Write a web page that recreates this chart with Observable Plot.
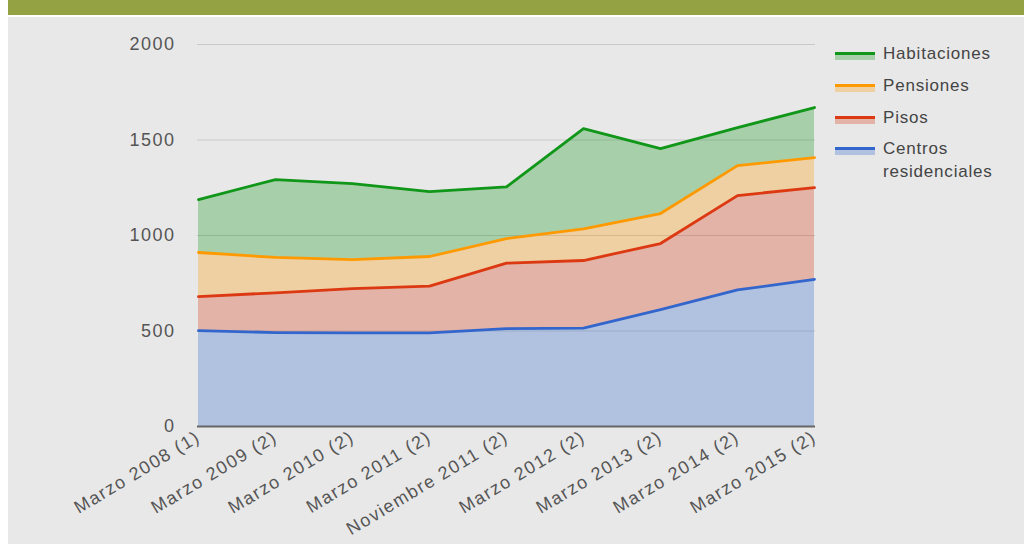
<!DOCTYPE html>
<html><head><meta charset="utf-8">
<script src="https://cdn.jsdelivr.net/npm/d3@7"></script>
<script src="https://cdn.jsdelivr.net/npm/@observablehq/plot@0.6"></script>
<style>
body{margin:0;background:#fff;width:1024px;height:544px;overflow:hidden;position:relative;font-family:"Liberation Sans",Arial,sans-serif}
#band{position:absolute;left:8px;top:0;width:1016px;height:15px;background:#94a244}
#bg{position:absolute;left:8px;top:17px;width:1016px;height:527px;background:#e8e8e8}
#chart{position:absolute;left:0;top:0}
#chart g[aria-label="x-axis tick label"] text{letter-spacing:1.5px}
#chart g[aria-label="y-axis tick label"] text{letter-spacing:1.5px}
.leg{position:absolute;left:835px;font-size:17px;letter-spacing:0.8px;color:#444;line-height:23px}
.sw{position:absolute;left:0;width:40px;height:8px}
.lt{position:absolute;left:48px;white-space:nowrap}
</style></head>
<body>
<div id="band"></div><div id="bg"></div><div id="chart"></div>
<script>
const fechas = ["Marzo 2008 (1)","Marzo 2009 (2)","Marzo 2010 (2)","Marzo 2011 (2)","Noviembre 2011 (2)","Marzo 2012 (2)","Marzo 2013 (2)","Marzo 2014 (2)","Marzo 2015 (2)"];
const centros = [502, 492, 490, 490, 512, 515, 612, 715, 770];
const pisos = [178, 208, 232, 245, 343, 354, 346, 494, 481];
const pensiones = [231, 185, 152, 155, 129, 166, 157, 157, 157];
const habitaciones = [277, 408, 398, 340, 271, 525, 340, 199, 262];
const series = ["Centros residenciales","Pisos","Pensiones","Habitaciones"];
const colores = ["#3366cc","#dc3912","#ff9900","#109618"];
const yTicks = [0, 500, 1000, 1500, 2000];

const valores = [centros, pisos, pensiones, habitaciones];
const data = [];
series.forEach((s, i) => fechas.forEach((f, j) => data.push({fecha: f, serie: s, valor: valores[i][j]})));

const chart = Plot.plot({
  width: 1024, height: 544,
  marginLeft: 197, marginRight: 209, marginTop: 44, marginBottom: 118,
  style: {background: "transparent", fontFamily: "Liberation Sans, Arial, sans-serif"},
  x: {type: "point", domain: fechas, padding: 0},
  y: {domain: [0, 2000], ticks: yTicks},
  color: {domain: series, range: colores},
  marks: [
    Plot.ruleY(yTicks.slice(1), {stroke: "#c8c8c8", strokeWidth: 1}),
    Plot.areaY(data, Plot.stackY({x: "fecha", y: "valor", z: "serie", fill: "serie", fillOpacity: 0.3, order: series})),
    Plot.lineY(data, Plot.stackY2({x: "fecha", y: "valor", z: "serie", stroke: "serie", strokeWidth: 2.8, order: series})),
    Plot.ruleY([0], {stroke: "#666", strokeWidth: 2}),
    Plot.axisY({ticks: yTicks, tickFormat: d => String(d), tickSize: 0, tickPadding: 22, fontSize: 18, fill: "#555", label: null}),
    Plot.axisX({tickSize: 0, tickPadding: 9, tickRotate: -31, fontSize: 18, fill: "#555", label: null})
  ]
});
document.getElementById("chart").appendChild(chart);

const legTops = [53, 85, 117, 148];
const legOrder = [3, 2, 1, 0];
const labels = {"Centros residenciales": "Centros<br>residenciales"};
legOrder.forEach((idx, k) => {
  const d = document.createElement("div");
  d.className = "leg";
  d.style.top = (legTops[k] - 11) + "px";
  const c = colores[idx];
  d.innerHTML = `<div class="sw" style="top:10px;border-top:3px solid ${c};"><div style="height:5px;background:${c};opacity:0.3"></div></div><div class="lt">${labels[series[idx]] || series[idx]}</div>`;
  document.body.appendChild(d);
});
</script>
</body></html>
